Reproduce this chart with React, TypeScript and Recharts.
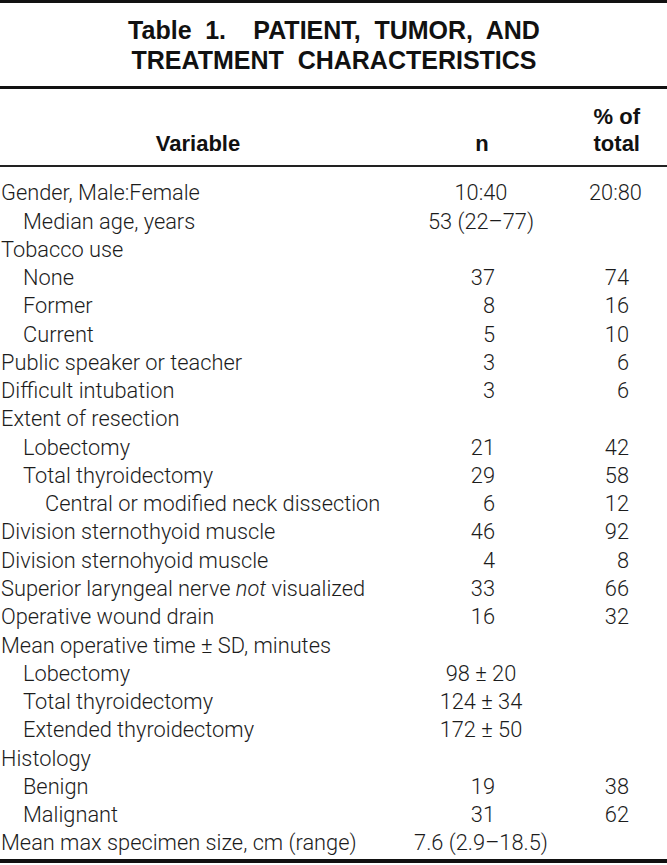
import { BarChart, Bar, XAxis, YAxis } from "recharts";

// rows of Table 1, top to bottom
const variables = [
  "Gender, Male:Female",
  "Median age, years",
  "Tobacco use",
  "None",
  "Former",
  "Current",
  "Public speaker or teacher",
  "Difficult intubation",
  "Extent of resection",
  "Lobectomy",
  "Total thyroidectomy",
  "Central or modified neck dissection",
  "Division sternothyoid muscle",
  "Division sternohyoid muscle",
  "Superior laryngeal nerve *not* visualized",
  "Operative wound drain",
  "Mean operative time ± SD, minutes",
  "Lobectomy",
  "Total thyroidectomy",
  "Extended thyroidectomy",
  "Histology",
  "Benign",
  "Malignant",
  "Mean max specimen size, cm (range)",
];
const levels = [0, 1, 0, 1, 1, 1, 0, 0, 0, 1, 1, 2, 0, 0, 0, 0, 0, 1, 1, 1, 0, 1, 1, 0];
const nValues = [
  "10:40", "53 (22–77)", "", "37", "8", "5", "3", "3", "", "21", "29", "6",
  "46", "4", "33", "16", "", "98 ± 20", "124 ± 34", "172 ± 50", "", "19", "31", "7.6 (2.9–18.5)",
];
const pctValues = [
  "20:80", "", "", "74", "16", "10", "6", "6", "", "42", "58", "12",
  "92", "8", "66", "32", "", "", "", "", "", "38", "62", "",
];

const W = 667;
const H = 865;
const BODY_FONT = "Roboto, 'Liberation Sans', sans-serif";
const TITLE_FONT = "'Liberation Sans', Arial, sans-serif";
const INK = "#1c1c1c";

const rows = variables.map((v, i) => ({
  id: `r${i}`,
  variable: v,
  level: levels[i],
  n: nValues[i],
  pct: pctValues[i],
  nNum: parseFloat(nValues[i]) || 0,
}));

const isInt = (s: string) => /^\d+$/.test(s);

const RowTick = (props: any) => {
  const { y, payload } = props;
  const row = rows[payload.index];
  if (!row) return null;
  const base = y + 7.8;
  const parts = row.variable.split("*");
  return (
    <g fontFamily={BODY_FONT} fontSize={21.8} fontWeight={300} fill={INK}>
      <text x={1 + row.level * 22} y={base} textAnchor="start">
        {parts.map((p, k) => (
          <tspan key={k} fontStyle={k % 2 === 1 ? "italic" : "normal"}>{p}</tspan>
        ))}
      </text>
      {row.n && (
        <text x={isInt(row.n) ? 495 : 481} y={base} textAnchor={isInt(row.n) ? "end" : "middle"}>
          {row.n}
        </text>
      )}
      {row.pct && (
        <text x={isInt(row.pct) ? 629 : 615.5} y={base} textAnchor={isInt(row.pct) ? "end" : "middle"}>
          {row.pct}
        </text>
      )}
    </g>
  );
};

const App = () => {
  return (
    <div style={{ position: "relative", width: W, height: H, background: "#fff" }}>
      <style>{`body{margin:0}`}</style>
      <BarChart
        width={W}
        height={H}
        data={rows}
        layout="vertical"
        margin={{ top: 178.4, right: 0, bottom: 8.3, left: 0 }}
        style={{ position: "absolute", left: 0, top: 0 }}
      >
        <XAxis type="number" hide />
        <YAxis
          type="category"
          dataKey="id"
          width={660}
          axisLine={false}
          tickLine={false}
          interval={0}
          tick={<RowTick />}
        />
        <Bar dataKey="nNum" fill="none" isAnimationActive={false} />
      </BarChart>
      <svg width={W} height={H} style={{ position: "absolute", left: 0, top: 0, pointerEvents: "none" }}>
        <rect x={0} y={0} width={W} height={3} fill="#111" />
        <g fontFamily={TITLE_FONT} fontWeight={700} fontSize={25} fill="#111" textAnchor="middle">
          <text x={334} y={39} wordSpacing={6.7} style={{ whiteSpace: "pre" }}>Table 1.  PATIENT, TUMOR, AND</text>
          <text x={334} y={69} style={{ whiteSpace: "pre" }}>TREATMENT  CHARACTERISTICS</text>
        </g>
        <rect x={0} y={86} width={W} height={3} fill="#111" />
        <g fontFamily={TITLE_FONT} fontWeight={700} fontSize={22} fill="#111">
          <text x={198} y={151} textAnchor="middle">Variable</text>
          <text x={482} y={151} textAnchor="middle">n</text>
          <text x={640} y={124} textAnchor="end">% of</text>
          <text x={640} y={151} textAnchor="end">total</text>
        </g>
        <rect x={0} y={165} width={W} height={2} fill="#222" />
        <rect x={0} y={859} width={W} height={4} fill="#111" />
      </svg>
    </div>
  );
};

export default App;
